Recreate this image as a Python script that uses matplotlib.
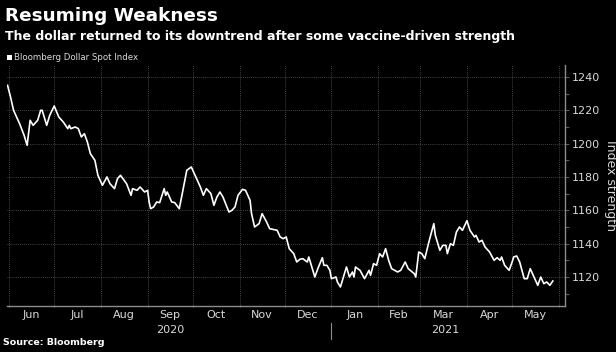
import numpy as np
import pandas as pd
import matplotlib
matplotlib.use("Agg")
import matplotlib.pyplot as plt

# Bloomberg Dollar Spot Index
dates = [
    "2020-05-31", "2020-06-02", "2020-06-04", "2020-06-08", "2020-06-11", "2020-06-13",
    "2020-06-15", "2020-06-17", "2020-06-20", "2020-06-22", "2020-06-23", "2020-06-26",
    "2020-06-28", "2020-07-01", "2020-07-04", "2020-07-07", "2020-07-10", "2020-07-11",
    "2020-07-12", "2020-07-15", "2020-07-17", "2020-07-19", "2020-07-21", "2020-07-23",
    "2020-07-25", "2020-07-28", "2020-07-30", "2020-08-02", "2020-08-05", "2020-08-07",
    "2020-08-10", "2020-08-12", "2020-08-14", "2020-08-18", "2020-08-21", "2020-08-22",
    "2020-08-25", "2020-08-27", "2020-08-30", "2020-09-01", "2020-09-02", "2020-09-03",
    "2020-09-05", "2020-09-07", "2020-09-09", "2020-09-12", "2020-09-13", "2020-09-14",
    "2020-09-17", "2020-09-19", "2020-09-22", "2020-09-24", "2020-09-27", "2020-09-30",
    "2020-10-03", "2020-10-06", "2020-10-08", "2020-10-10", "2020-10-13", "2020-10-15",
    "2020-10-17", "2020-10-19", "2020-10-21", "2020-10-25", "2020-10-27", "2020-10-29",
    "2020-10-31", "2020-11-03", "2020-11-05", "2020-11-08", "2020-11-09", "2020-11-11",
    "2020-11-14", "2020-11-16", "2020-11-19", "2020-11-21", "2020-11-26", "2020-11-28",
    "2020-11-30", "2020-12-02", "2020-12-04", "2020-12-07", "2020-12-09", "2020-12-11",
    "2020-12-13", "2020-12-16", "2020-12-17", "2020-12-19", "2020-12-21", "2020-12-23",
    "2020-12-26", "2020-12-27", "2020-12-29", "2020-12-31", "2021-01-01", "2021-01-04",
    "2021-01-05", "2021-01-07", "2021-01-09", "2021-01-11", "2021-01-13", "2021-01-15",
    "2021-01-16", "2021-01-17", "2021-01-20", "2021-01-23", "2021-01-26", "2021-01-27",
    "2021-01-29", "2021-01-31", "2021-02-02", "2021-02-04", "2021-02-06", "2021-02-08",
    "2021-02-10", "2021-02-14", "2021-02-16", "2021-02-19", "2021-02-21", "2021-02-25",
    "2021-02-26", "2021-02-28", "2021-03-02", "2021-03-04", "2021-03-07", "2021-03-10",
    "2021-03-11", "2021-03-14", "2021-03-16", "2021-03-18", "2021-03-19", "2021-03-21",
    "2021-03-23", "2021-03-25", "2021-03-27", "2021-03-29", "2021-04-01", "2021-04-03",
    "2021-04-06", "2021-04-07", "2021-04-09", "2021-04-11", "2021-04-13", "2021-04-16",
    "2021-04-19", "2021-04-21", "2021-04-23", "2021-04-24", "2021-04-26", "2021-04-29",
    "2021-05-01", "2021-05-02", "2021-05-04", "2021-05-06", "2021-05-09", "2021-05-11",
    "2021-05-13", "2021-05-16", "2021-05-18", "2021-05-20", "2021-05-22", "2021-05-24",
    "2021-05-26", "2021-05-28",
]
index_values = [
    1235, 1228, 1220, 1212, 1205, 1199,
    1214, 1211, 1214, 1220, 1220, 1211,
    1217, 1222.6, 1216, 1213, 1209, 1211,
    1209, 1210, 1209, 1204, 1206, 1201,
    1194, 1190, 1181, 1175, 1180, 1176,
    1173, 1179, 1181, 1176, 1169, 1173,
    1172, 1174, 1171, 1172, 1165, 1161,
    1162, 1165, 1164.6, 1173, 1169, 1171,
    1165, 1164.6, 1161, 1170, 1184, 1186,
    1180, 1174, 1169, 1173, 1170, 1163,
    1168, 1171, 1168, 1159, 1160, 1162,
    1169, 1172.6, 1172, 1166, 1158, 1150,
    1152, 1158, 1153, 1149, 1148, 1144,
    1143, 1144, 1137, 1134, 1129, 1130.6,
    1131, 1129, 1132, 1126, 1120, 1125,
    1131.6, 1127, 1127, 1124, 1119, 1120,
    1117, 1114, 1120, 1126, 1120, 1123,
    1120, 1126, 1124, 1119, 1124, 1121,
    1128, 1127, 1134, 1132, 1137, 1130,
    1125, 1123, 1124, 1129, 1125, 1122,
    1120, 1135, 1134, 1131, 1142, 1152,
    1145, 1136, 1139, 1139, 1134, 1140,
    1139, 1147, 1150, 1148, 1153.8, 1148,
    1144, 1145, 1141, 1142, 1138, 1135,
    1130, 1131.6, 1130, 1132, 1127, 1124,
    1129, 1132, 1132.6, 1129, 1119, 1119,
    1125, 1119, 1115, 1120, 1116, 1117,
    1115, 1117.6,
]
y_ticks = [1120, 1140, 1160, 1180, 1200, 1220, 1240]
month_labels = ["Jun", "Jul", "Aug", "Sep", "Oct", "Nov", "Dec",
                "Jan", "Feb", "Mar", "Apr", "May"]
years = ["2020", "2021"]

bg = "black"
fg = "white"
txt = "#d9d9d9"
gridc = "#5a5a5a"

x = pd.to_datetime(dates)
month_starts = pd.date_range("2020-06-01", "2021-06-01", freq="MS")
mids = month_starts[:-1] + (month_starts[1:] - month_starts[:-1]) / 2

fig = plt.figure(figsize=(6.16, 3.52), dpi=100, facecolor=bg)
ax = fig.add_axes([0.011, 0.1307, 0.906, 0.6847], facecolor=bg)

ax.plot(x, index_values, color=fg, lw=1.2)

ax.set_xlim(pd.Timestamp("2020-05-30 12:00"), pd.Timestamp("2021-06-05"))
ax.set_ylim(1102.6, 1247.2)

# y axis on the right
ax.yaxis.tick_right()
ax.set_yticks(y_ticks)
ax.set_yticks(np.arange(1110, 1250, 10), minor=True)
ax.tick_params(axis="y", which="both", colors=gridc, labelcolor=txt,
               labelsize=8, length=3, width=0.8, pad=2)
ax.set_ylabel("Index strength", color=txt, fontsize=9, rotation=270, labelpad=12)
ax.yaxis.set_label_position("right")

# month gridlines, labels in the middle of each month
ax.set_xticks(month_starts)
ax.set_xticklabels([])
ax.set_xticks(mids, minor=True)
ax.set_xticklabels(month_labels, minor=True)
ax.tick_params(axis="x", which="major", colors=gridc, length=2, width=0.8, direction="inout")
ax.tick_params(axis="x", which="minor", length=0, labelcolor=txt, labelsize=8, pad=3)

ax.grid(True, which="major", color=gridc, ls=(0, (1, 1.5)), lw=0.6)

for side in ["left", "top"]:
    ax.spines[side].set_visible(False)
for side in ["right", "bottom"]:
    ax.spines[side].set_color("#8c8c8c")
    ax.spines[side].set_linewidth(1.0)

# year labels under the months
trans = ax.get_xaxis_transform()
y2020 = pd.Timestamp("2020-06-01") + (pd.Timestamp("2021-01-01") - pd.Timestamp("2020-06-01")) / 2
y2021 = pd.Timestamp("2021-01-01") + (pd.Timestamp("2021-06-01") - pd.Timestamp("2021-01-01")) / 2
ax.text(y2020, -0.1, years[0], transform=trans, ha="center", va="center",
        color=txt, fontsize=8)
ax.text(y2021, -0.1, years[1], transform=trans, ha="center", va="center",
        color=txt, fontsize=8)
ax.plot([pd.Timestamp("2021-01-01")] * 2, [-0.07, -0.135], transform=trans,
        color="#8c8c8c", lw=0.8, clip_on=False)

# titles, legend, source
fig.text(0.008, 0.955, "Resuming Weakness", color=fg, fontsize=13.2,
         fontweight="bold", va="center", ha="left")
fig.text(0.008, 0.895, "The dollar returned to its downtrend after some vaccine-driven strength",
         color=fg, fontsize=9.0, fontweight="bold", va="center", ha="left")
fig.patches.append(plt.Rectangle((0.011, 0.829), 0.009, 0.016, transform=fig.transFigure,
                                 facecolor=fg, edgecolor="none"))
fig.text(0.023, 0.837, "Bloomberg Dollar Spot Index", color=txt, fontsize=6.2,
         va="center", ha="left")
fig.text(0.005, 0.028, "Source: Bloomberg", color=fg, fontsize=6.8,
         fontweight="bold", va="center", ha="left")

fig.savefig("out.png", dpi=100, facecolor=bg)
